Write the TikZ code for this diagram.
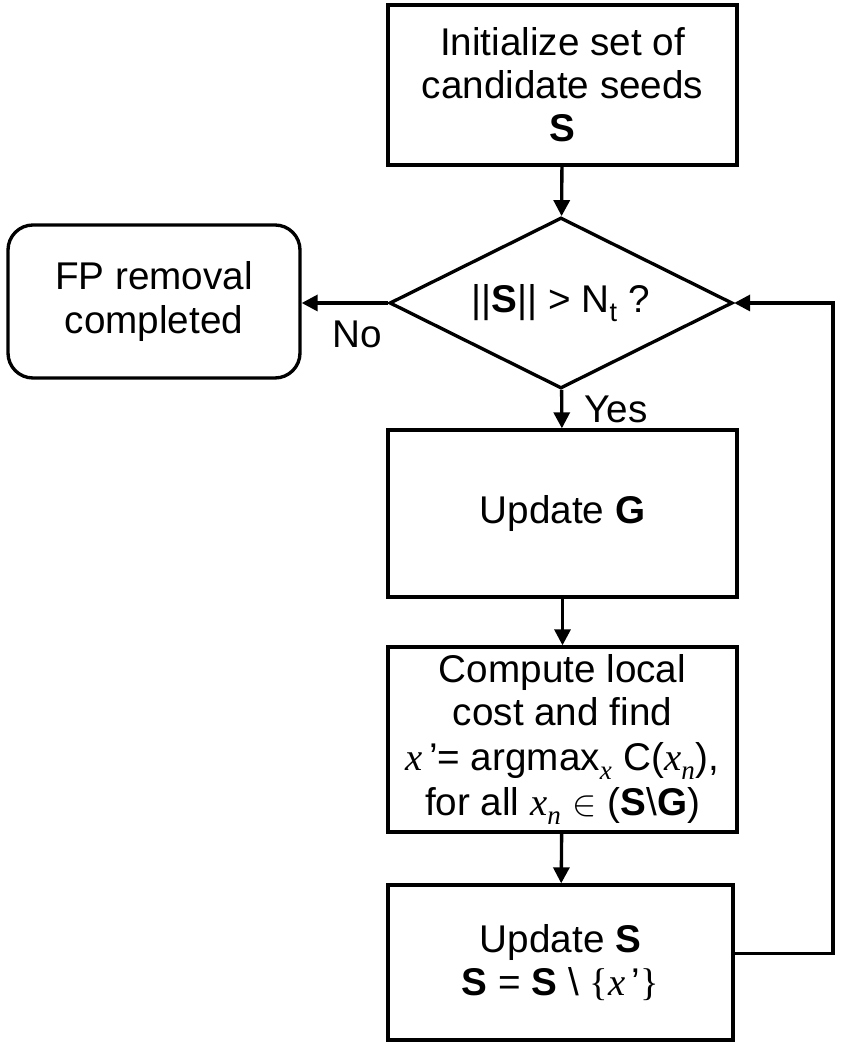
\documentclass[tikz,border=0pt]{standalone}
\usepackage{fontspec}
\setsansfont{Liberation Sans}
\newfontfamily\serifx{Liberation Serif}
\usetikzlibrary{calc}
\usetikzlibrary{positioning}
\usetikzlibrary{arrows.meta}
\usetikzlibrary{shapes.geometric}
\tikzset{every picture/.style={/utils/exec={\sffamily}}}
\tikzset{
  stepbox/.style={draw, line width=1.9pt, minimum width=6.98cm, align=center, inner sep=0pt},
  testbox/.style={draw, diamond, aspect=2, line width=1.9pt, minimum width=6.86cm, minimum height=3.42cm, inner sep=0pt},
  endbox/.style={draw, rounded corners=0.5cm, line width=1.9pt, minimum width=5.84cm, minimum height=3.06cm, align=center},
  flow/.style={line width=1.9pt, -{Triangle[length=0.32cm,width=0.32cm]}}
}
\newcommand{\xvar}{{\serifx\itshape x}}
\newcommand{\lowsub}[1]{\raisebox{-0.2ex}{\textsubscript{#1}}}

\begin{document}
\begin{tikzpicture}[font=\fontsize{22}{24.5}\selectfont]
  \useasboundingbox (0,0) rectangle (16.9,21);

  \node [stepbox, minimum height=3.2cm] (init) at (11.25,19.3) {Initialize set of\\candidate seeds\\\textbf{S}};
  \node [testbox] (test) at (11.22,14.94) {||\textbf{S}|| > N\lowsub{t} ?};
  \node [endbox] (done) at (3.08,14.97) {FP removal\\completed};
  \node [stepbox, minimum height=3.34cm] (updg) at (11.25,10.73) {Update \textbf{G}};
  \node [stepbox, minimum height=3.7cm] (cost) at (11.25,6.21)
    {Compute local\\cost and find\\[1pt]\xvar\,’= argmax\lowsub{\xvar} C(\xvar\lowsub{\serifx\itshape n}),\\[1pt]for all \xvar\lowsub{\serifx\itshape n} $\in$ (\textbf{S}\textbackslash\textbf{G})};
  \node [stepbox, minimum width=6.9cm, minimum height=3.1cm] (upds) at (11.21,1.75)
    {Update \textbf{S}\\\textbf{S} = \textbf{S} \textbackslash\ {\serifx\{}\xvar\,’{\serifx\}}};
  \coordinate (loop) at (16.66,0);

  \draw [flow] (init) -- (test);
  \draw [flow] (test.west) -- node[pos=0.35, below=0.2cm] {No} (test.west -| done.east);
  \draw [flow] (test) -- node[right=0.3cm] {Yes} (updg);
  \draw [flow] (updg) -- (cost);
  \draw [flow] (cost) -- (upds);
  \draw [flow] ([yshift=0.18cm]upds.east) -| (loop |- test.east) -- (test.east);

\end{tikzpicture}
\end{document}
